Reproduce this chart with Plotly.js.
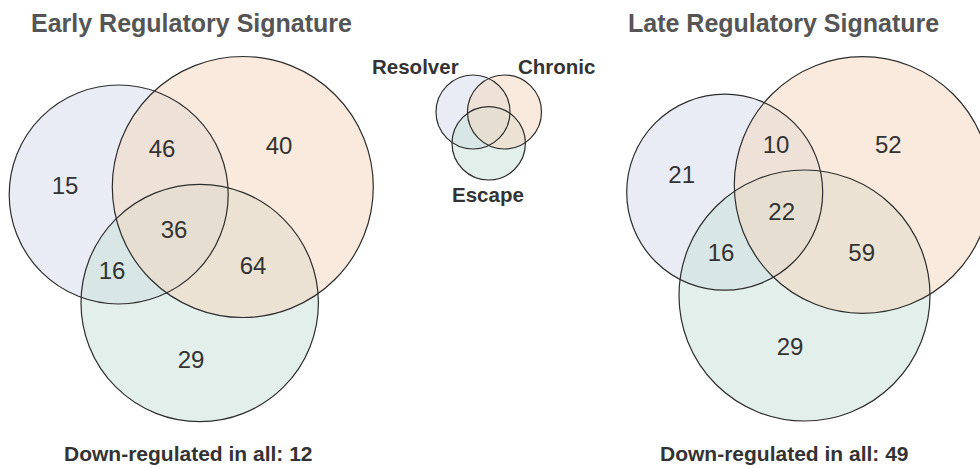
<!DOCTYPE html>
<html>
<head>
<meta charset="utf-8">
<script src="https://cdn.plot.ly/plotly-3.0.1.min.js"></script>
<style>html,body{margin:0;padding:0;background:#fff;}#chart{width:980px;height:468px;}</style>
</head>
<body>
<div id="chart"></div>
<script>
// ---- data ----
const setNames = ['Resolver', 'Chronic', 'Escape'];
const regionNames = ['Resolver only', 'Resolver & Chronic', 'Chronic only', 'All three', 'Resolver & Escape', 'Chronic & Escape', 'Escape only'];
const earlyCounts = [15, 46, 40, 36, 16, 64, 29];
const lateCounts = [21, 10, 52, 22, 16, 59, 29];
const panelTitles = ['Early Regulatory Signature', 'Late Regulatory Signature'];
const downInAll = [12, 49];

// ---- layout geometry (pixel space) ----
const geom = {
  early: {
    circles: [[118.7, 194.5, 109.5], [242.8, 187, 130.5], [199.7, 303, 118.7]],
    labels: [[65, 188], [162, 151], [279, 148], [174, 232], [112, 273], [253, 268], [191, 362]],
    title: [191, 22.5], foot: [188, 453]
  },
  late: {
    circles: [[724.7, 192.2, 98], [862.6, 185, 128.3], [804.5, 295.5, 125.5]],
    labels: [[681.7, 176.7], [776, 146.7], [888.3, 146.7], [781.7, 214.3], [721, 255], [861.7, 255], [790, 349.3]],
    title: [783.3, 22.5], foot: [784, 453]
  },
  legend: {
    circles: [[473, 112, 37], [504.5, 112, 37], [488.7, 143.3, 36.7]],
    labels: [[415, 66], [556, 66], [487.7, 194]]
  }
};
const fills = ['rgb(211,217,233)', 'rgb(243,213,187)', 'rgb(199,223,213)'];
const drawOrder = [0, 2, 1];
const lineColor = '#2e2e2e';
const FONT = 'Liberation Sans, Arial, Helvetica, sans-serif';

const shapes = [];
function addVenn(g) {
  drawOrder.forEach(i => {
    const [cx, cy, r] = g.circles[i];
    shapes.push({type: 'circle', xref: 'x', yref: 'y', x0: cx - r, x1: cx + r, y0: cy - r, y1: cy + r,
      fillcolor: fills[i], opacity: 0.5, line: {width: 0}, layer: 'below'});
  });
  g.circles.forEach(([cx, cy, r]) => {
    shapes.push({type: 'circle', xref: 'x', yref: 'y', x0: cx - r, x1: cx + r, y0: cy - r, y1: cy + r,
      fillcolor: 'rgba(0,0,0,0)', line: {color: lineColor, width: 1.2}, layer: 'below'});
  });
}
addVenn(geom.early);
addVenn(geom.late);
addVenn(geom.legend);

function countTrace(g, counts, name) {
  return {
    type: 'scatter', mode: 'text', name: name,
    x: g.labels.map(p => p[0]), y: g.labels.map(p => p[1]),
    text: counts.map(String), customdata: regionNames,
    textposition: 'middle center',
    textfont: {family: FONT, size: 24, color: '#333'},
    hoverinfo: 'skip', showlegend: false
  };
}

const annotations = [];
[geom.early, geom.late].forEach((g, k) => {
  annotations.push({x: g.title[0], y: g.title[1], xref: 'x', yref: 'y', text: '<b>' + panelTitles[k] + '</b>',
    showarrow: false, xanchor: 'center', yanchor: 'middle', font: {family: FONT, size: 25, color: '#555'}});
  annotations.push({x: g.foot[0], y: g.foot[1], xref: 'x', yref: 'y', text: '<b>Down-regulated in all: ' + downInAll[k] + '</b>',
    showarrow: false, xanchor: 'center', yanchor: 'middle', font: {family: FONT, size: 21, color: '#333'}});
});
setNames.forEach((n, i) => {
  const p = geom.legend.labels[i];
  annotations.push({x: p[0], y: p[1], xref: 'x', yref: 'y', text: '<b>' + n + '</b>',
    showarrow: false, xanchor: 'center', yanchor: 'middle', font: {family: FONT, size: 20.5, color: '#333'}});
});

const layout = {
  width: 980, height: 468,
  margin: {l: 0, r: 0, t: 0, b: 0},
  paper_bgcolor: '#fff', plot_bgcolor: '#fff',
  xaxis: {range: [0, 980], visible: false, fixedrange: true},
  yaxis: {range: [468, 0], visible: false, fixedrange: true},
  shapes: shapes, annotations: annotations, showlegend: false
};

Plotly.newPlot('chart', [countTrace(geom.early, earlyCounts, 'Early'), countTrace(geom.late, lateCounts, 'Late')], layout, {displayModeBar: false, staticPlot: true});
</script>
</body>
</html>
